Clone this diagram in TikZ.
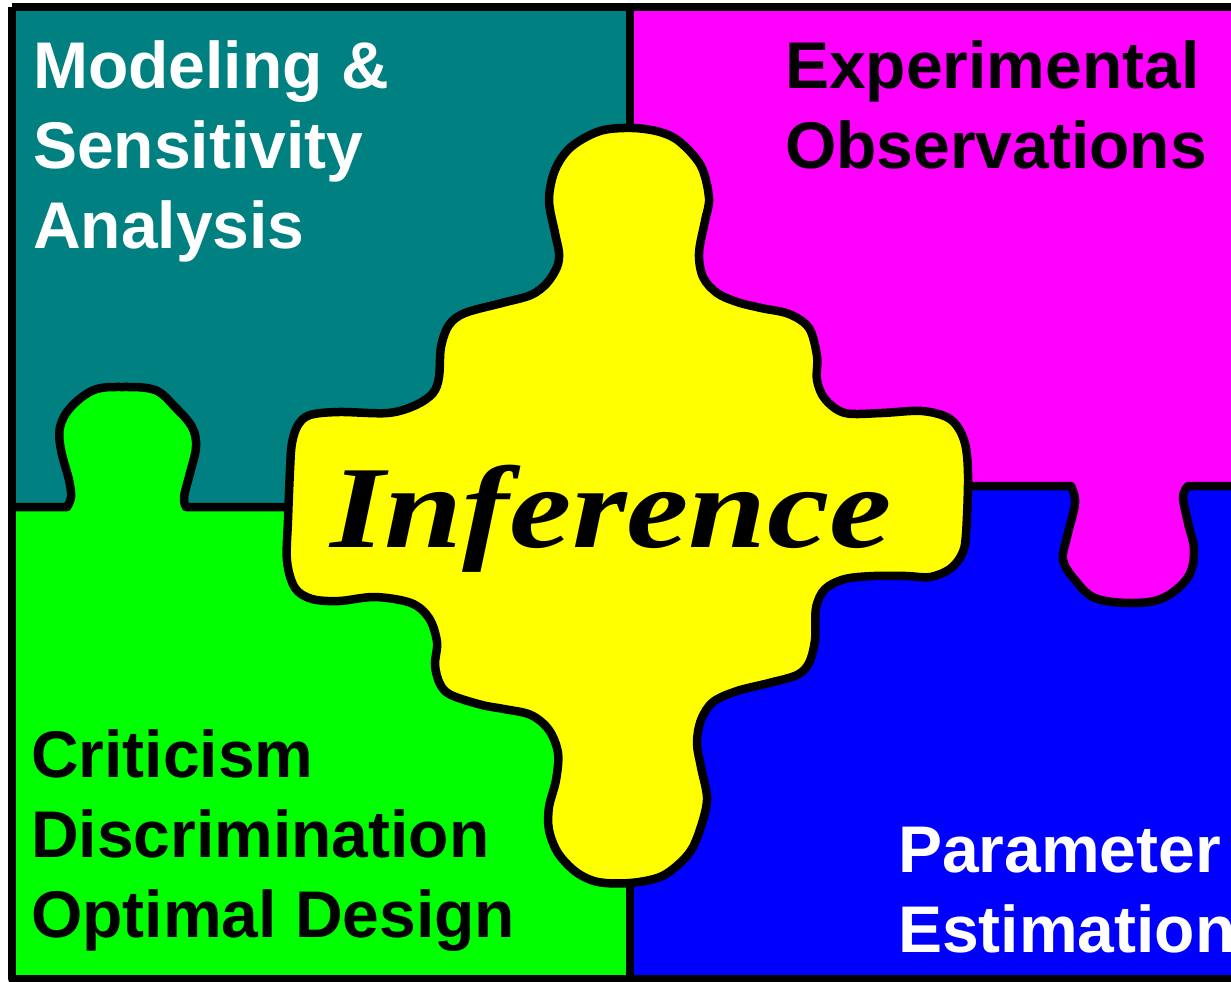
\documentclass[tikz,border=0pt]{standalone}
\usepackage{fontspec}
\setmainfont{Liberation Serif}
\setsansfont{Liberation Sans}
\usepackage{tikz}
\usepackage{xcolor}
\definecolor{cTeal}{RGB}{0,128,128}
\definecolor{cMagenta}{RGB}{255,0,255}
\definecolor{cGreen}{RGB}{0,255,0}
\definecolor{cBlue}{RGB}{0,0,255}
\definecolor{cYellow}{RGB}{255,255,0}
\tikzset{
	% puzzle outlines
	seam/.style   ={draw=black, line width=8.5pt, line join=round},
	piece/.style  ={seam, fill=cYellow},
	% labels in the four corners (anchored on the last line)
	corner/.style ={font=\fontsize{66}{80}\selectfont\sffamily\bfseries, align=left, inner sep=0pt, anchor=base west},
	centre/.style ={font=\fontsize{117}{117}\selectfont\rmfamily\bfseries\itshape, inner sep=0pt, anchor=base},
}

\begin{document}
\begin{tikzpicture}[x=1pt, y=-1pt]
	\useasboundingbox (0,0) rectangle (1231,982);
	\clip (0,0) rectangle (1231,982);
	% the four quarters
	\fill[cTeal]    (12,7)  rectangle (630,507);
	\fill[cMagenta] (630,7) rectangle (1240,486);
	\fill[cGreen]   (12,507) rectangle (630,979);
	\fill[cBlue]    (630,486) rectangle (1240,979);
	% vertical seams above and below the centre piece
	\draw[seam] (630,7) -- (630,140);
	\draw[seam] (630,870) -- (630,979);
	% green tab pushing up into the teal quarter
	\fill[cGreen] (67,510) -- plot[smooth, tension=0.6] coordinates {(67,507) (71,497) (69,480) (61,450) (60,427) (71,407) (94,390) (122,387) (155,390) (175,407) (192,427) (196,447) (190,473) (184,497) (186,507)} -- (186,510) -- cycle;
	\draw[seam] (12,507) -- (67,507) -- plot[smooth, tension=0.6] coordinates {(67,507) (71,497) (69,480) (61,450) (60,427) (71,407) (94,390) (122,387) (155,390) (175,407) (192,427) (196,447) (190,473) (184,497) (186,507)} -- (300,507);
	% magenta tab hanging down into the blue quarter
	\fill[cMagenta] (1071,483) -- plot[smooth, tension=0.6] coordinates {(1071,486) (1075,503) (1067,537) (1063,560) (1075,580) (1095,598) (1131,603) (1163,598) (1188,577) (1194,550) (1188,523) (1183,497) (1188,486)} -- (1188,483) -- cycle;
	\draw[seam] (950,486) -- (1071,486) -- plot[smooth, tension=0.6] coordinates {(1071,486) (1075,503) (1067,537) (1063,560) (1075,580) (1095,598) (1131,603) (1163,598) (1188,577) (1194,550) (1188,523) (1183,497) (1188,486)} -- (1240,486);
	% centre piece
	\draw[piece] plot[smooth cycle, tension=0.55] coordinates {
		(571,147) (600,131) (632,128) (660,132) (680,142) (701,166) (709,198) (705,221) (699,253)
		(703,277) (717,293) (737,302) (761,308) (789,314) (809,328) (817,356) (817,380) (825,399)
		(845,413) (882,413) (922,411) (950,419) (964,440) (968,474) (966,534) (962,554) (950,569)
		(930,577) (906,576) (874,576) (845,579) (825,589) (816,608) (815,640) (809,663) (797,675)
		(769,683) (737,691) (713,702) (701,720) (697,743) (701,767) (707,797) (703,820) (693,847)
		(680,863) (660,877) (630,883) (598,882) (576,872) (558,853) (549,830) (549,807) (556,780)
		(558,753) (549,730) (531,715) (504,709) (482,705) (451,695) (440,684) (435,665) (437,642)
		(429,618) (411,603) (375,597) (339,601) (312,599) (295,588) (287,561) (288,520) (290,470)
		(292,443) (298,425) (310,415) (339,412) (388,413) (416,405) (433,393) (439,377) (441,347)
		(449,325) (465,313) (502,303) (531,295) (547,283) (557,267) (559,253) (555,233) (549,200)
		(555,170)};
	% frame
	\draw[seam] (12,7) -- (1240,7);
	\draw[seam] (12,7) -- (12,979) -- (1240,979);
	% labels
	\node[corner, text=white] (modeling) at (33,248) {Modeling \&\\Sensitivity\\Analysis};
	\node[corner] (observations) at (785,168) {Experimental\\Observations};
	\node[corner] (criticism) at (31,937) {Criticism\\Discrimination\\Optimal Design};
	\node[corner, text=white] (estimation) at (898,952) {Parameter\\Estimation};
	\node[centre] (inference) at (611,547) {\scalebox{1.2}[1]{Inference}};
\end{tikzpicture}
\end{document}
